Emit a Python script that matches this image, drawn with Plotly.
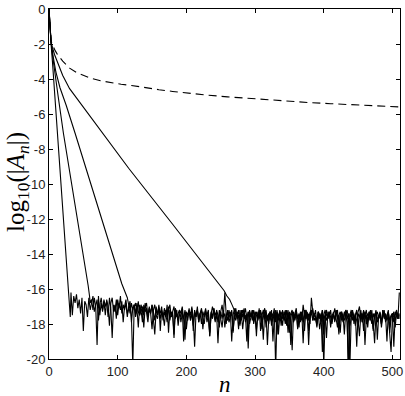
import plotly.graph_objects as go

# ---------------- data ----------------
# dashed curve (n, log10|A_n|)
dash_n = [0, 1, 2, 3, 4, 6, 9, 12, 16, 20, 25, 30, 40, 50, 60, 75, 90, 105, 120,
          140, 160, 180, 200, 230, 260, 290, 320, 350, 380, 410, 440, 470, 511]
dash_v = [0, -0.9, -1.4, -1.75, -1.95, -2.15, -2.38, -2.58, -2.8, -2.98, -3.18, -3.38,
          -3.63, -3.8, -3.94, -4.1, -4.22, -4.3, -4.37, -4.5, -4.61, -4.71, -4.8,
          -4.92, -5.02, -5.11, -5.2, -5.28, -5.35, -5.41, -5.47, -5.52, -5.6]

# solid curves: decay part
s1_n = [0, 1, 2, 3, 5, 8, 12, 17, 22, 26, 28, 29, 30, 31]
s1_v = [0, -0.8, -1.4, -2.0, -3.0, -4.7, -7.0, -9.8, -12.7, -15.0, -15.9, -16.3, -17.0, -17.6]
s2_n = [0, 1, 2, 3, 5, 8, 13, 21, 38, 54, 57, 59, 60]
s2_v = [0, -0.8, -1.4, -1.85, -2.6, -3.6, -4.9, -7.1, -11.1, -14.9, -15.8, -16.4, -16.8]
s3_n = [0, 1, 2, 3, 6, 10, 16, 25, 38, 70, 100, 106, 110, 114, 116]
s3_v = [0, -0.8, -1.4, -1.9, -2.7, -3.6, -4.5, -5.5, -7.1, -11.2, -15.0, -15.7, -16.1, -16.5, -16.9]
s4_n = [0, 1, 2, 3, 5, 8, 13, 20, 30, 48, 77, 116, 180, 231, 255, 259, 263, 267, 271]
s4_v = [0, -0.8, -1.4, -1.9, -2.2, -2.6, -3.1, -3.8, -4.55, -5.5, -7.1, -9.1, -12.3,
        -14.9, -16.1, -16.4, -16.6, -16.95, -17.3]

# noise floors (every 2nd n, starting at given n)
noise_step = 2
s1_noise_start = 32
s1_noise = [
    -16.2, -17.5, -16.4, -16.8, -16.3, -17.1, -16.6, -17.4, -16.5, -18.4,
    -16.7, -16.9, -17.6, -16.5, -17.2, -16.8, -16.4, -17.3, -17.0, -16.6,
    -17.8, -16.9, -16.5, -17.2, -16.7, -17.5, -16.6, -17.0, -18.1, -16.8,
    -16.5, -17.3, -16.9, -17.7, -16.6, -17.1, -16.4, -17.4, -16.9, -17.2,
    -16.8, -17.6, -17.0, -16.7, -17.9, -17.1, -16.9, -17.4, -16.8, -17.3,
    -17.5, -16.9, -17.2, -18.2, -17.0, -16.8, -17.6, -17.1, -17.4, -16.9,
    -17.3, -17.8, -17.0, -17.5, -16.9, -18.4, -17.2, -17.6, -17.1, -17.4,
    -17.9, -17.2, -16.9, -17.6, -17.3, -18.6, -17.1, -17.5, -17.8, -17.2,
    -17.4, -17.0, -17.7, -18.9, -17.3, -17.5, -17.1, -17.8, -17.4, -18.1,
    -17.2, -17.6, -17.0, -17.9, -17.4, -17.2, -18.3, -17.5, -17.1, -17.7,
    -17.3, -18.7, -17.4, -17.0, -17.6, -17.9, -17.2, -17.5, -18.2, -17.3,
    -16.9, -17.6, -17.4, -18.0, -17.2, -17.7, -17.3, -19.0, -17.5, -17.1,
    -17.6, -17.4, -18.3, -17.2, -17.8, -17.5, -17.1, -17.9, -17.4, -18.6,
    -17.3, -17.6, -17.2, -18.0, -17.5, -17.3, -17.8, -17.1, -18.4, -17.5,
    -17.2, -17.7, -17.4, -19.2, -17.6, -17.3, -17.9, -17.5, -17.1, -20.6,
    -17.4, -17.8, -17.2, -17.6, -18.1, -17.3, -17.5, -17.9, -17.2, -18.5,
    -17.6, -17.3, -17.8, -17.4, -17.1, -18.2, -17.5, -17.7, -17.3, -19.1,
    -17.5, -17.2, -17.8, -17.4, -18.0, -16.5, -17.3, -17.6, -17.2, -17.9,
    -17.4, -18.3, -17.6, -17.2, -17.7, -17.5, -18.8, -17.3, -17.6, -17.2,
    -17.9, -17.4, -17.1, -17.7, -18.2, -17.5, -17.3, -17.8, -17.4, -18.6,
    -17.3, -17.6, -20.8, -17.5, -17.2, -17.8, -17.4, -18.1, -17.6, -17.3,
    -17.0, -17.7, -17.4, -18.4, -17.5, -17.2, -17.9, -17.3, -17.6, -18.0,
    -17.4, -17.7, -17.2, -18.9, -17.5, -17.3, -17.8, -17.6, -17.2, -17.9,
    -17.5, -17.3, -18.2, -17.6, -17.4, -19.3, -17.5, -17.2, -17.7, -16.2,
]
s2_noise_start = 62
s2_noise = [
    -16.6, -17.2, -16.5, -17.0, -19.2, -16.4, -17.5, -16.8, -17.3, -16.6,
    -17.0, -16.7, -17.6, -16.5, -17.1, -18.8, -16.9, -17.3, -16.6, -17.5,
    -16.8, -17.2, -16.7, -17.9, -17.0, -16.6, -17.4, -17.1, -16.9, -17.6,
    -20.4, -17.0, -16.8, -17.3, -16.7, -17.5, -17.2, -17.9, -16.9, -17.3,
    -17.1, -17.6, -17.0, -17.4, -18.3, -17.2, -16.9, -17.5, -17.7, -17.1,
    -17.4, -17.0, -17.8, -17.3, -17.6, -16.9, -18.5, -17.2, -17.5, -17.3,
    -17.0, -17.7, -17.2, -18.1, -17.4, -17.6, -17.1, -19.0, -17.3, -17.5,
    -17.8, -17.2, -17.5, -17.0, -18.4, -17.3, -17.6, -17.2, -17.9, -17.4,
    -17.1, -17.6, -18.0, -17.3, -17.5, -17.2, -18.7, -17.4, -17.7, -17.1,
    -17.5, -17.3, -17.9, -17.2, -17.6, -18.2, -17.4, -16.2, -17.5, -17.8,
    -17.2, -17.6, -17.3, -18.5, -17.4, -17.1, -17.7, -17.5, -18.0, -17.2,
    -17.6, -17.3, -17.8, -17.5, -19.4, -17.2, -17.6, -17.4, -17.9, -17.3,
    -17.5, -17.8, -17.2, -17.6, -18.3, -17.4, -17.1, -17.7, -17.5, -18.0,
    -17.3, -17.6, -17.4, -17.9, -17.2, -18.6, -17.5, -17.3, -17.8, -17.4,
    -17.6, -17.2, -18.1, -17.5, -17.3, -17.8, -19.5, -17.4, -17.6, -17.2,
    -17.7, -17.4, -17.9, -17.3, -17.6, -18.4, -17.2, -17.5, -17.8, -17.3,
    -17.5, -17.1, -17.8, -17.6, -18.2, -17.3, -17.7, -17.4, -19.6, -17.5,
    -17.2, -17.8, -17.5, -17.3, -18.0, -17.6, -17.4, -17.9, -17.2, -17.7,
    -17.5, -18.5, -17.3, -17.6, -17.8, -17.4, -17.2, -17.7, -20.5, -17.5,
    -17.3, -17.8, -17.5, -17.2, -18.1, -17.6, -17.4, -17.9, -17.3, -19.2,
    -17.6, -17.4, -17.8, -17.2, -17.7, -18.3, -17.5, -17.3, -17.9, -17.6,
    -17.4, -18.0, -17.2, -17.7, -17.5, -19.0, -17.3, -17.8, -17.5, -17.4,
    -17.6, -18.2, -17.3, -17.7, -17.5,
]
s3_noise_start = 118
s3_noise = [
    -17.4, -16.8, -17.2, -16.9, -17.6, -17.1, -18.2, -16.9, -17.3, -17.0,
    -17.5, -16.8, -17.3, -17.9, -17.1, -17.4, -16.9, -17.6, -18.6, -17.2,
    -17.4, -17.0, -17.7, -17.3, -17.5, -18.1, -17.2, -17.6, -17.0, -17.8,
    -17.3, -17.5, -18.8, -17.1, -17.6, -17.4, -17.2, -17.9, -17.4, -17.7,
    -17.2, -18.3, -17.5, -17.3, -17.8, -17.1, -17.6, -19.3, -17.4, -17.2,
    -17.7, -17.4, -18.0, -17.3, -17.6, -17.2, -17.9, -17.5, -18.5, -17.3,
    -17.6, -17.1, -17.8, -17.4, -19.1, -17.5, -17.3, -17.7, -17.2, -18.2,
    -17.5, -17.3, -17.9, -17.6, -17.2, -18.4, -17.5, -17.8, -17.3, -17.6,
    -18.1, -17.4, -17.2, -17.7, -17.5, -19.0, -17.3, -17.6, -17.4, -17.8,
    -17.2, -17.6, -18.3, -17.4, -17.7, -17.3, -17.5, -18.9, -17.4, -17.2,
    -17.8, -17.5, -17.3, -18.1, -17.6, -17.4, -17.9, -17.2, -18.6, -17.5,
    -17.3, -17.7, -17.5, -18.0, -17.2, -17.6, -17.4, -19.2, -17.5, -17.3,
    -17.8, -17.4, -17.6, -18.2, -17.3, -17.5, -17.9, -17.2, -17.7, -17.4,
    -18.4, -17.5, -17.2, -17.8, -17.4, -17.6, -18.1, -17.3, -17.5, -17.9,
    -17.3, -18.6, -17.5, -17.2, -17.7, -17.4, -17.6, -18.0, -17.3, -17.8,
    -17.5, -17.2, -18.3, -17.6, -17.4, -17.8, -17.3, -17.5, -17.9, -20.7,
    -17.4, -17.6, -17.2, -18.0, -17.5, -17.3, -17.8, -18.7, -17.4, -17.6,
    -17.2, -17.7, -17.5, -18.2, -17.3, -17.6, -17.4, -17.9, -19.1, -17.5,
    -17.3, -17.7, -17.5, -18.0, -17.2, -17.6, -17.4, -17.8, -17.5, -18.4,
    -19.6, -17.6, -17.3, -17.8, -17.5, -17.4, -17.7,
]
s4_noise_start = 274
s4_noise = [
    -17.6, -17.2, -17.9, -17.4, -18.3, -17.5, -17.1, -17.7, -17.3, -18.0,
    -17.5, -17.2, -17.8, -17.4, -18.7, -17.3, -17.6, -17.2, -17.9, -17.5,
    -17.3, -18.2, -17.6, -17.4, -17.8, -17.2, -19.0, -17.5, -17.7, -17.3,
    -17.6, -17.4, -18.1, -17.2, -17.8, -17.5, -17.3, -18.5, -17.6, -17.4,
    -17.2, -17.9, -17.5, -17.3, -18.3, -17.6, -17.4, -17.8, -16.9, -17.5,
    -17.7, -17.3, -19.2, -17.5, -17.2, -17.8, -17.4, -17.6, -18.0, -17.3,
    -17.5, -17.8, -17.2, -20.4, -17.6, -17.4, -17.7, -17.3, -18.2, -17.5,
    -17.4, -17.8, -17.2, -17.6, -18.6, -17.4, -17.3, -17.9, -17.5, -17.2,
    -17.7, -17.4, -18.1, -17.6, -17.3, -17.8, -17.5, -19.3, -17.4, -17.6,
    -17.2, -17.9, -17.5, -17.3, -18.0, -17.6, -17.4, -17.8, -17.2, -18.4,
    -17.5, -17.3, -17.7, -17.6, -17.4, -18.2, -17.5, -17.3, -17.8, -17.6,
    -17.2, -18.5, -17.6, -17.4, -17.9, -17.3, -17.5, -17.7, -17.4,
]

x_ticks = [0, 100, 200, 300, 400, 500]
x_tick_text = ["0", "100", "200", "300", "400", "500"]
y_ticks = [0, -2, -4, -6, -8, -10, -12, -14, -16, -18, -20]
y_tick_text = ["0", "-2", "-4", "-6", "-8", "-10", "-12", "-14", "-16", "-18", "-20"]

# ---------------- figure ----------------
def full_series(dn, dv, start, noise):
    ns = list(dn) + [start + noise_step * i for i in range(len(noise))]
    vs = list(dv) + list(noise)
    return ns, vs

fig = go.Figure()
line_style = dict(color="black", width=1.1)
for dn, dv, st, nz in [(s4_n, s4_v, s4_noise_start, s4_noise),
                       (s3_n, s3_v, s3_noise_start, s3_noise),
                       (s2_n, s2_v, s2_noise_start, s2_noise),
                       (s1_n, s1_v, s1_noise_start, s1_noise)]:
    xs, ys = full_series(dn, dv, st, nz)
    fig.add_trace(go.Scatter(x=xs, y=ys, mode="lines", line=line_style,
                             showlegend=False, hoverinfo="skip"))

fig.add_trace(go.Scatter(x=dash_n, y=dash_v, mode="lines",
                         line=dict(color="black", width=1.1, dash="8px,5px"),
                         showlegend=False, hoverinfo="skip"))

tick_font = dict(family="Liberation Sans, Arial, sans-serif", size=13, color="#222")
axis_common = dict(showline=True, linecolor="black", linewidth=1, mirror="allticks",
                   ticks="inside", ticklen=4, tickcolor="black", tickwidth=1,
                   showgrid=False, zeroline=False, tickfont=tick_font,
                   ticklabeloverflow="allow")

fig.update_layout(
    width=405, height=396,
    margin=dict(l=49, r=2, t=4, b=37),
    paper_bgcolor="white", plot_bgcolor="white",
    xaxis=dict(range=[0, 511], tickmode="array", tickvals=x_ticks,
               ticktext=x_tick_text, **axis_common),
    yaxis=dict(range=[-20, 0], tickmode="array", tickvals=y_ticks,
               ticktext=y_tick_text, **axis_common),
    annotations=[
        dict(text="<i>n</i>", xref="paper", yref="paper", x=0.5, y=0,
             xanchor="center", yanchor="middle", yshift=-25, showarrow=False,
             font=dict(family="Liberation Serif, serif", size=23, color="black")),
        dict(text="log<sub>10</sub>(|<i>A<sub>n</sub></i>|)", xref="paper", yref="paper",
             x=0, y=0.5, xanchor="center", yanchor="middle", xshift=-32, yshift=2,
             textangle=-90, showarrow=False,
             font=dict(family="Liberation Serif, serif", size=25, color="black")),
    ],
)

fig.write_html("out.html", config={"displayModeBar": False},
               post_script="document.body.style.margin='0';document.body.style.padding='0';")
